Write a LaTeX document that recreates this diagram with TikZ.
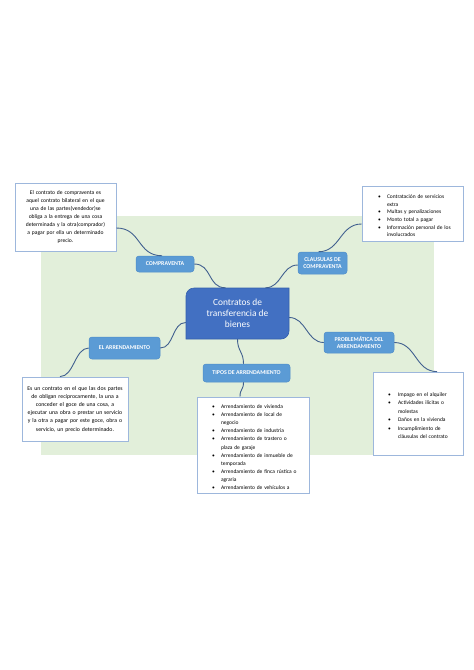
\documentclass[tikz,border=0pt]{standalone}
\usepackage{fontspec}
\setmainfont{Carlito}
\usetikzlibrary{shadows}
\definecolor{bggreen}{HTML}{E2EFDA}
\definecolor{ctrfill}{HTML}{4270C2}
\definecolor{ctredge}{HTML}{3560AE}
\definecolor{subblue}{HTML}{5B9BD5}
\definecolor{subedge}{HTML}{4F8DC9}
\definecolor{boxedge}{HTML}{9DB7DC}
\definecolor{connc}{HTML}{41608F}
\newcommand\bitem[2]{\par\hangindent=#1\hangafter=1\noindent\makebox[#1][l]{\textbullet}#2\par}
\begin{document}
\begin{tikzpicture}[x=1pt,y=-1pt,
  sub/.style={fill=subblue, draw=subedge, line width=0.5pt, rounded corners=3pt, text=white,
    font=\fontsize{5.9}{7.6}\selectfont\bfseries, align=center, inner sep=0pt},
  wbox/.style={fill=white, draw=boxedge, line width=0.8pt, inner xsep=0pt, inner ysep=0pt,
    drop shadow={opacity=0.18, shadow xshift=0.8pt, shadow yshift=-0.8pt}},
  conn/.style={draw=connc, line width=0.9pt}]
\useasboundingbox (0,0) rectangle (474,670);
\fill[white] (0,0) rectangle (474,670);
% green background
\fill[bggreen] (41,216) rectangle (434,455);
% centre shape (top-left and bottom-right corners rounded)
\filldraw[fill=ctrfill, draw=ctredge, line width=0.6pt]
  (186,339) -- (186,296) .. controls (186,291.6) and (189.6,288) .. (194,288)
  -- (289,288) -- (289,331) .. controls (289,335.4) and (285.4,339) .. (281,339) -- cycle;
\node[minimum width=103pt, minimum height=51pt, inner sep=0pt, text=white, align=center,
  font=\fontsize{9.4}{11}\selectfont] (ctr) at (237.5,313.5) {Contratos de\\transferencia de\\bienes};
% sub nodes
\node[sub, minimum width=58pt, minimum height=16pt] (cv) at (165,264) {COMPRAVENTA};
\node[sub, minimum width=49pt, minimum height=22pt] (cl) at (322.5,263) {CLAUSULAS DE\\COMPRAVENTA};
\node[sub, minimum width=71pt, minimum height=22pt] (ea) at (124.5,348) {EL ARRENDAMIENTO};
\node[sub, minimum width=70pt, minimum height=21pt] (pr) at (359,342.5) {PROBLEMÁTICA DEL\\ARRENDAMIENTO};
\node[sub, minimum width=87pt, minimum height=18pt] (tp) at (246.5,373) {TIPOS DE ARRENDAMIENTO};
% text boxes
\node[wbox, text width=101pt, minimum height=68pt, align=center,
  font=\fontsize{5.6}{7.9}\selectfont] (tl) at (65.5,217)
  {El contrato de compraventa es\\aquel contrato bilateral en el que\\una de las partes(vendedor)se\\obliga a la entrega de una cosa\\determinada y la otra(comprador)\\a pagar por ella un determinado\\precio.};
\node[wbox, text width=101pt, minimum height=55pt,
  font=\fontsize{5.5}{7.6}\selectfont] (tr) at (412.5,214)
  {\raggedright\leftskip=16pt\relax
   \bitem{9pt}{Contratación de servicios\newline extra}%
   \bitem{9pt}{Multas y penalizaciones}%
   \bitem{9pt}{Monto total a pagar}%
   \bitem{9pt}{Información personal de los\newline involucrados}};
\node[wbox, text width=106pt, minimum height=64pt, align=center,
  font=\fontsize{5.8}{8.2}\selectfont] (lb) at (75,409)
  {Es un contrato en el que las dos partes\\de obligan recíprocamente, la una a\\conceder el goce de una cosa, a\\ejecutar una obra o prestar un servicio\\y la otra a pagar por este goce, obra o\\servicio, un precio determinado.};
\node[wbox, text width=112pt, minimum height=96pt,
  font=\fontsize{5.5}{8.1}\selectfont] (tb) at (253,445)
  {\raggedright\leftskip=15pt\relax
   \bitem{9pt}{Arrendamiento de vivienda}%
   \bitem{9pt}{Arrendamiento de local de\newline negocio}%
   \bitem{9pt}{Arrendamiento de industria}%
   \bitem{9pt}{Arrendamiento de trastero o\newline plaza de garaje}%
   \bitem{9pt}{Arrendamiento de inmueble de\newline temporada}%
   \bitem{9pt}{Arrendamiento de finca rústica o\newline agraria}%
   \bitem{9pt}{Arrendamiento de vehículos a}};
\node[wbox, text width=90pt, minimum height=83pt,
  font=\fontsize{5.5}{8.5}\selectfont] (rb) at (418,413.5)
  {\raggedright\leftskip=15pt\relax
   \bitem{10pt}{Impago en el alquiler}%
   \bitem{10pt}{Actividades ilícitas o\newline molestas}%
   \bitem{10pt}{Daños en la vivienda}%
   \bitem{10pt}{Incumplimiento de\newline cláusulas del contrato}};
% connectors
\draw[conn] ([yshift=-11pt]tl.east) .. controls +(25,0) and +(-25,0) .. ([xshift=-3pt]cv.north);
\draw[conn] (cv.east) .. controls +(18,0) and +(-18,0) .. ([xshift=-12pt]ctr.north);
\draw[conn] ([xshift=28pt]ctr.north) .. controls +(16,0) and +(-16,0) .. ([yshift=-2pt]cl.west);
\draw[conn] ([xshift=-4pt]cl.north) .. controls +(22,0) and +(-22,0) .. ([yshift=-10pt]tr.west);
\draw[conn] ([yshift=-9pt]ctr.west) .. controls +(-14,0) and +(14,0) .. (ea.east);
\draw[conn] (ea.west) .. controls +(-14,0) and +(14,0) .. ([xshift=-15pt]lb.north);
\draw[conn] ([yshift=-4pt]ctr.east) .. controls +(17,0) and +(-17,0) .. (pr.west);
\draw[conn] (pr.east) .. controls +(22,0) and +(-22,0) .. ([xshift=19pt]rb.north);
\draw[conn] (ctr.south) .. controls +(0,12) and +(0,-12) .. ([xshift=-3pt]tp.north);
\draw[conn] ([xshift=-3pt]tp.south) .. controls +(0,8) and +(0,-8) .. ([xshift=-13pt]tb.north);
\end{tikzpicture}
\end{document}
